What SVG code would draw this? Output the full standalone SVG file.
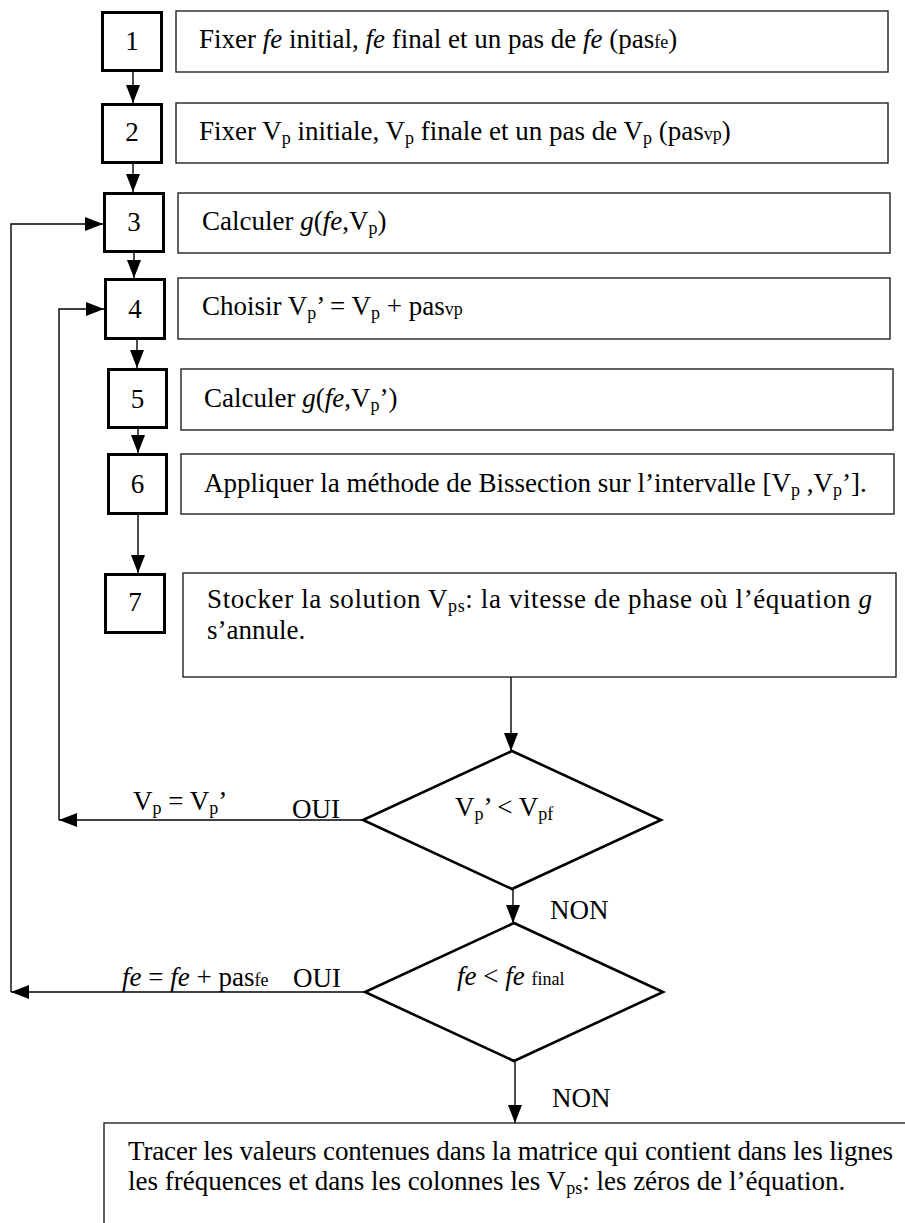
<svg xmlns="http://www.w3.org/2000/svg" width="905" height="1223" viewBox="0 0 905 1223">
<style>
text{font-family:"Liberation Serif","Times New Roman",serif;font-size:27px;fill:#000}
.num{text-anchor:middle}
.it{font-style:italic}
.sub{font-size:18px}
.nb{fill:#fff;stroke:#000;stroke-width:3}
.tb{fill:#fff;stroke:#222;stroke-width:1.4}
.dm{fill:#fff;stroke:#000;stroke-width:2.6}
.cn{fill:none;stroke:#000;stroke-width:1.4}
</style>
<defs>
<marker id="ah" markerUnits="userSpaceOnUse" markerWidth="18" markerHeight="16" refX="18" refY="7" orient="auto">
<path d="M0,0 L18,7 L0,14 z" fill="#000"/>
</marker>
</defs>
<rect width="905" height="1223" fill="#fff"/>
<g id="connectors">
<path class="cn" d="M133,72 V103" marker-end="url(#ah)"/>
<path class="cn" d="M133,164 V192" marker-end="url(#ah)"/>
<path class="cn" d="M134,253 V278" marker-end="url(#ah)"/>
<path class="cn" d="M137,340 V368" marker-end="url(#ah)"/>
<path class="cn" d="M138,429 V453" marker-end="url(#ah)"/>
<path class="cn" d="M138,515 V573" marker-end="url(#ah)"/>
<path class="cn" d="M511,677 V751" marker-end="url(#ah)"/>
<path class="cn" d="M513,889 V923" marker-end="url(#ah)"/>
<path class="cn" d="M515,1062 V1123" marker-end="url(#ah)"/>
<path class="cn" d="M363,820 H59" marker-end="url(#ah)"/>
<path class="cn" d="M59,820 V309 H104" marker-end="url(#ah)"/>
<path class="cn" d="M365,992 H11" marker-end="url(#ah)"/>
<path class="cn" d="M11,992 V224 H103" marker-end="url(#ah)"/>
<text x="133" y="810">V<tspan class="sub" dy="4">p</tspan><tspan dy="-4"> = V</tspan><tspan class="sub" dy="4">p</tspan><tspan dy="-4">’</tspan></text>
<text x="292" y="818">OUI</text>
<text x="550" y="919">NON</text>
<text x="122" y="986"><tspan class="it">fe</tspan> = <tspan class="it">fe</tspan> + pas<tspan class="sub">fe</tspan></text>
<text x="293" y="987">OUI</text>
<text x="552" y="1107">NON</text>
</g>
<g id="n1">
<rect class="nb" x="102.5" y="12.5" width="59" height="58"/>
<text class="num" x="132" y="50">1</text>
<rect class="tb" x="176" y="11" width="712" height="61"/>
<text x="199" y="48">Fixer <tspan class="it">fe</tspan> initial, <tspan class="it">fe</tspan> final et un pas de <tspan class="it">fe</tspan> (pas<tspan class="sub">fe</tspan>)</text>
</g>
<g id="n2">
<rect class="nb" x="102.5" y="104.5" width="59" height="58"/>
<text class="num" x="132" y="141">2</text>
<rect class="tb" x="176" y="103" width="712" height="60"/>
<text x="199" y="140">Fixer V<tspan class="sub" dy="4">p</tspan><tspan dy="-4"> initiale, V</tspan><tspan class="sub" dy="4">p</tspan><tspan dy="-4"> finale et un pas de V</tspan><tspan class="sub" dy="4">p</tspan><tspan dy="-4"> (pas</tspan><tspan class="sub">vp</tspan>)</text>
</g>
<g id="n3">
<rect class="nb" x="104.5" y="193.5" width="59" height="58"/>
<text class="num" x="134" y="231">3</text>
<rect class="tb" x="178" y="193" width="712" height="60"/>
<text x="202" y="230">Calculer <tspan class="it">g</tspan>(<tspan class="it">fe</tspan>,V<tspan class="sub" dy="4">p</tspan><tspan dy="-4">)</tspan></text>
</g>
<g id="n4">
<rect class="nb" x="105.5" y="279.5" width="59" height="59"/>
<text class="num" x="135" y="318">4</text>
<rect class="tb" x="178" y="278" width="712" height="61"/>
<text x="202" y="315">Choisir V<tspan class="sub" dy="4">p</tspan><tspan dy="-4">’ = V</tspan><tspan class="sub" dy="4">p</tspan><tspan dy="-4"> + pas</tspan><tspan class="sub">vp</tspan></text>
</g>
<g id="n5">
<rect class="nb" x="108.5" y="369.5" width="58" height="58"/>
<text class="num" x="137.5" y="408">5</text>
<rect class="tb" x="181" y="369" width="712" height="61"/>
<text x="204" y="407">Calculer <tspan class="it">g</tspan>(<tspan class="it">fe</tspan>,V<tspan class="sub" dy="4">p</tspan><tspan dy="-4">’)</tspan></text>
</g>
<g id="n6">
<rect class="nb" x="108.5" y="454.5" width="58" height="59"/>
<text class="num" x="137.5" y="493">6</text>
<rect class="tb" x="181" y="454" width="713" height="60"/>
<text x="204" y="492">Appliquer la méthode de Bissection sur l’intervalle [V<tspan class="sub" dy="4">p</tspan><tspan dy="-4"> ,V</tspan><tspan class="sub" dy="4">p</tspan><tspan dy="-4">’].</tspan></text>
</g>
<g id="n7">
<rect class="nb" x="105.5" y="574.5" width="59" height="58"/>
<text class="num" x="135" y="611">7</text>
<rect class="tb" x="183" y="573" width="713" height="104"/>
<text x="207" y="608" textLength="665" lengthAdjust="spacing">Stocker la solution V<tspan class="sub" dy="4">ps</tspan><tspan dy="-4">: la vitesse de phase où l’équation </tspan><tspan class="it">g</tspan></text>
<text x="207" y="639">s’annule.</text>
</g>
<g id="d1">
<polygon class="dm" points="512,751 661,820 512,889 363,820"/>
<text x="455" y="816">V<tspan class="sub" dy="4">p</tspan><tspan dy="-4">’ &lt; V</tspan><tspan class="sub" dy="4">pf</tspan></text>
</g>
<g id="d2">
<polygon class="dm" points="514,923 663,992 514,1061 365,992"/>
<text x="457" y="985"><tspan class="it">fe</tspan> &lt; <tspan class="it">fe</tspan> <tspan class="sub">final</tspan></text>
</g>
<g id="n8">
<rect class="tb" x="104" y="1123" width="820" height="140"/>
<text x="128" y="1160" textLength="765" lengthAdjust="spacing">Tracer les valeurs contenues dans la matrice qui contient dans les lignes</text>
<text x="128" y="1190">les fréquences et dans les colonnes les V<tspan class="sub" dy="4">ps</tspan><tspan dy="-4">: les zéros de l’équation.</tspan></text>
</g>
</svg>
